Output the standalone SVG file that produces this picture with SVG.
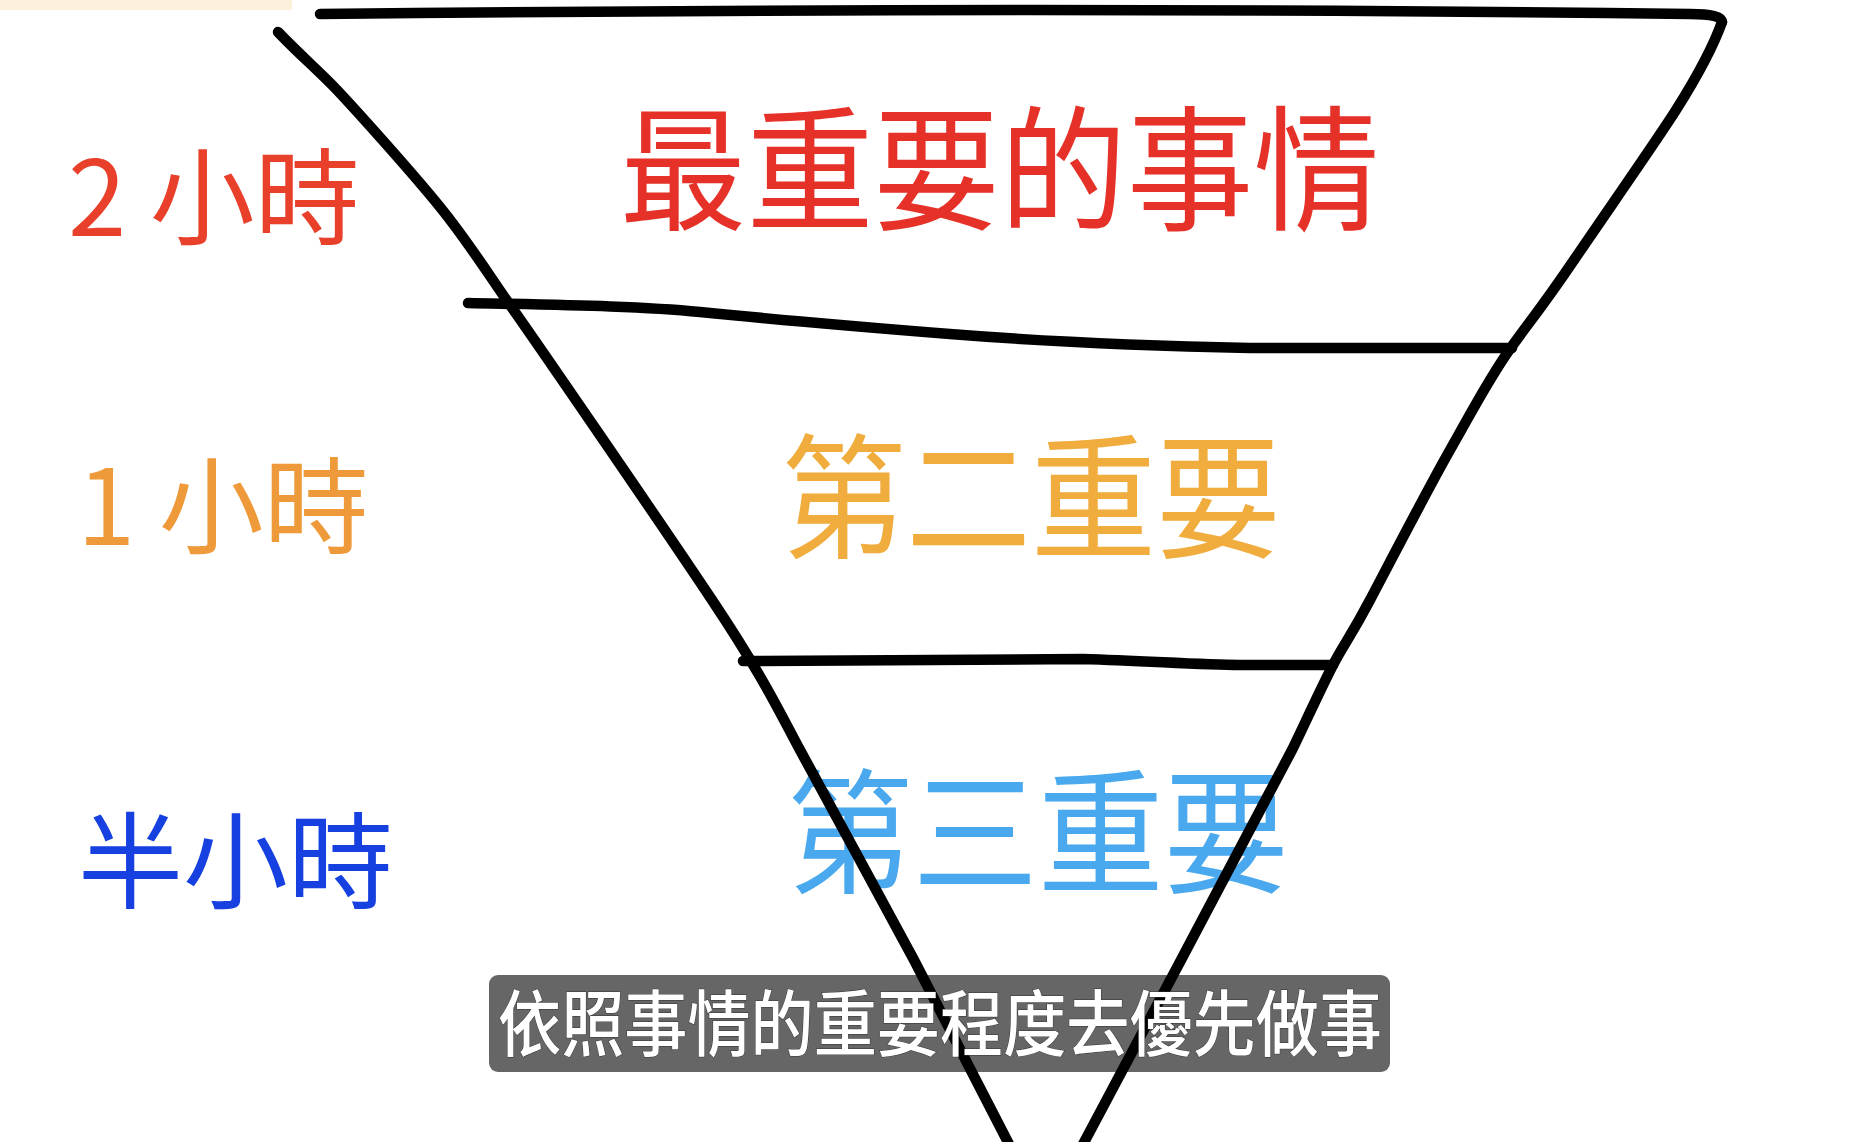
<svg xmlns="http://www.w3.org/2000/svg" width="1872" height="1142" viewBox="0 0 1872 1142">
  <style>
    .cjk { font-family: "Noto Sans CJK TC", "Noto Sans CJK SC", sans-serif; }
    .hand { font-size: 135px; font-weight: 400; }
    .label { font-size: 105px; font-weight: 400; }
    .stroke { fill: none; stroke: #000; stroke-width: 10.5; stroke-linecap: round; stroke-linejoin: round; }
  </style>
  <rect x="0" y="0" width="1872" height="1142" fill="#fff"/>
  <rect id="top-bar" x="0" y="0" width="292" height="10" fill="#fdf1dc"/>

  <g id="tier-texts" class="cjk hand">
    <text id="tier1" x="620" y="220" fill="#e53127" textLength="760" lengthAdjust="spacingAndGlyphs">最重要的事情</text>
    <text id="tier2" x="781" y="548" fill="#f0ac3c" textLength="500" lengthAdjust="spacingAndGlyphs">第二重要</text>
    <text id="tier3" x="787" y="883" fill="#4aa9ee" textLength="502" lengthAdjust="spacingAndGlyphs">第三重要</text>
  </g>

  <g id="time-labels" class="cjk label" xml:space="preserve">
    <text id="label-2h" x="68" y="236" fill="#e8402a">2 小時</text>
    <text id="label-1h" x="77" y="545" fill="#ef9a3a">1 小時</text>
    <text id="label-half" x="78" y="900" fill="#1640e0">半小時</text>
  </g>

  <g id="funnel" class="stroke">
    <path id="top-edge" d="M320,14 C700,10 1200,8 1690,14 Q1722,14 1722,22"/>
    <path id="left-edge" d="M278,32 C300,55 320,72 337,90 S410,170 440,207 S490,277 510,305 S660,522 712,600 S780,713 800,750 S890,915 914,960 L1012,1150"/>
    <path id="right-edge" d="M1722,22 C1712,50 1695,80 1676,110 S1610,207 1574,260 S1532,318 1510,349 S1470,415 1450,450 S1390,562 1370,600 S1345,642 1333,665 S1300,734 1292,750 L1181,960 L1080,1150"/>
    <path id="divider-1" d="M468,303 C560,305 640,306 700,312 S850,326 950,334 S1150,346 1250,348 L1512,348"/>
    <path id="divider-2" d="M743,661 L1083,659 C1150,661 1200,665 1240,665 L1333,665"/>
  </g>

  <g id="subtitle">
    <rect x="489" y="975" width="901" height="97" rx="9" ry="9" fill="#000" fill-opacity="0.6"/>
    <text class="cjk" x="498" y="1050" fill="#fff" font-size="72" font-weight="500" textLength="884" lengthAdjust="spacingAndGlyphs" stroke="#333" stroke-width="1" paint-order="stroke">依照事情的重要程度去優先做事</text>
  </g>
</svg>
